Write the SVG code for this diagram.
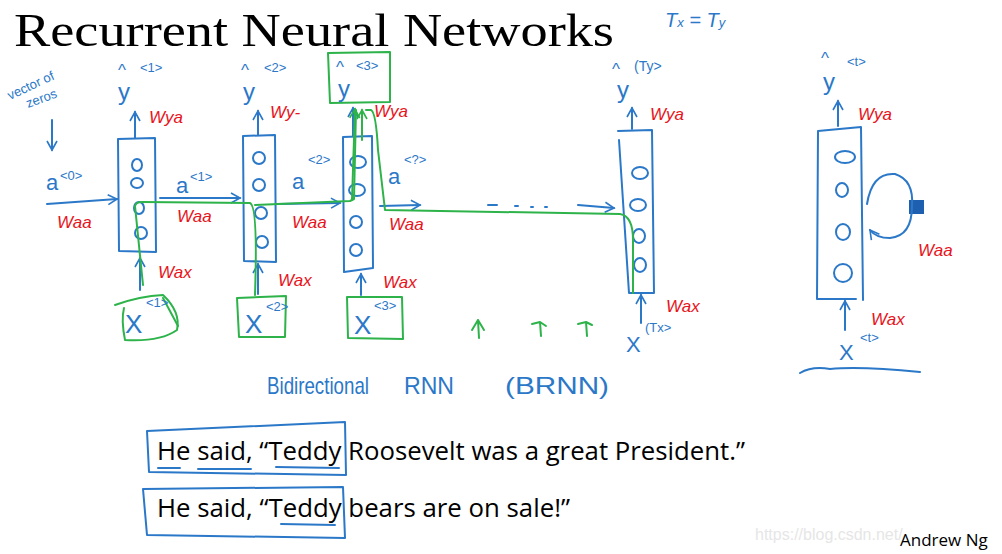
<svg xmlns="http://www.w3.org/2000/svg" width="1002" height="554" viewBox="0 0 1002 554">
<defs>
<marker id="ah" viewBox="0 0 12 12" refX="10" refY="6" markerWidth="12" markerHeight="12" markerUnits="userSpaceOnUse" orient="auto">
<path d="M1,1 L10,6 L1,11" fill="none" stroke="#2b78c8" stroke-width="1.6"/>
</marker>
<marker id="ahg" viewBox="0 0 12 12" refX="10" refY="6" markerWidth="12" markerHeight="12" markerUnits="userSpaceOnUse" orient="auto">
<path d="M1,1 L10,6 L1,11" fill="none" stroke="#2db34a" stroke-width="1.6"/>
</marker>
</defs>
<style>
.b{fill:none;stroke:#2b78c8;stroke-width:2;stroke-linecap:round;stroke-linejoin:round}
.g{fill:none;stroke:#2db34a;stroke-width:2;stroke-linecap:round;stroke-linejoin:round}
.hb{font-family:"Liberation Sans",sans-serif;fill:#2b78c8}
.hr{font-family:"Liberation Sans",sans-serif;fill:#e8141b;font-size:17px;font-style:italic}
.s{font-family:"Open Sans","Liberation Sans",sans-serif;font-size:25px;fill:#000}
.ar{marker-end:url(#ah)}
.c{fill:none;stroke:#2b78c8;stroke-width:2}
</style>
<rect width="1002" height="554" fill="#fff"/>
<text x="14" y="46" font-family="Liberation Serif,serif" font-size="46" textLength="600" lengthAdjust="spacingAndGlyphs" fill="#000">Recurrent Neural Networks</text>
<text x="665" y="27" class="hb" font-size="20" font-style="italic">T<tspan font-size="13">x</tspan> = T<tspan font-size="13">y</tspan></text>
<text x="900" y="546" font-family="Open Sans,Liberation Sans,sans-serif" font-size="17" fill="#000">Andrew Ng</text>
<text x="755" y="540" font-family="Liberation Sans,sans-serif" font-size="16" fill="#e6e6e6">https://blog.csdn.net/</text>

<g id="zeros-note">
<text x="10" y="100" class="hb" font-size="13" transform="rotate(-25 10 100)">vector of</text>
<text x="28" y="108" class="hb" font-size="13" transform="rotate(-20 28 108)">zeros</text>
</g>

<g id="unit1">
<path class="b" d="M118,139 L155,138 L156,252 L119,251 Z"/>
<ellipse class="c" cx="137" cy="165" rx="5" ry="6"/>
<ellipse class="c" cx="137" cy="183" rx="6" ry="5"/>
<ellipse class="c" cx="139" cy="208" rx="5" ry="6"/>
<ellipse class="c" cx="141" cy="233" rx="6" ry="6"/>
</g>
<g id="unit2">
<path class="b" d="M243,136 L275,135 L276,262 L244,261 Z"/>
<ellipse class="c" cx="259" cy="158" rx="6" ry="6"/>
<ellipse class="c" cx="259" cy="185" rx="6" ry="6"/>
<ellipse class="c" cx="261" cy="213" rx="6" ry="6"/>
<ellipse class="c" cx="262" cy="242" rx="6" ry="6"/>
</g>
<g id="unit3">
<path class="b" d="M343,137 L372,136 L373,268 L344,272 Z"/>
<ellipse class="c" cx="358" cy="162" rx="8" ry="6"/>
<ellipse class="c" cx="357" cy="190" rx="8" ry="6"/>
<ellipse class="c" cx="356" cy="222" rx="6" ry="6"/>
<ellipse class="c" cx="356" cy="250" rx="6" ry="6"/>
</g>
<g id="unitTy">
<path class="b" d="M618,131 L652,130 L654,293 L629,293 L619,140"/>
<ellipse class="c" cx="640" cy="173" rx="8" ry="6"/>
<ellipse class="c" cx="638" cy="205" rx="8" ry="6"/>
<ellipse class="c" cx="639" cy="236" rx="6" ry="7"/>
<ellipse class="c" cx="640" cy="265" rx="6" ry="7"/>
</g>
<g id="unitT">
<path class="b" d="M818,131 L861,127 L863,300 M818,131 L817,299 L856,299"/>
<ellipse class="c" cx="845" cy="157" rx="10" ry="6"/>
<ellipse class="c" cx="842" cy="190" rx="6" ry="7"/>
<ellipse class="c" cx="843" cy="232" rx="7" ry="8"/>
<ellipse class="c" cx="843" cy="273" rx="9" ry="9"/>
<rect x="909" y="200" width="15" height="14" fill="#1f5fb0"/>
</g>

<g id="outputs">
<text x="118" y="76" class="hb" font-size="17">^</text><text x="140" y="72" class="hb" font-size="13">&lt;1&gt;</text><text x="118" y="100" class="hb" font-size="24">y</text>
<text x="241" y="76" class="hb" font-size="17">^</text><text x="264" y="72" class="hb" font-size="13">&lt;2&gt;</text><text x="243" y="100" class="hb" font-size="24">y</text>
<path class="g" d="M328,53 L390,52 L390,102 L330,103 Z"/>
<text x="336" y="73" class="hb" font-size="17">^</text><text x="356" y="70" class="hb" font-size="13">&lt;3&gt;</text><text x="338" y="97" class="hb" font-size="24">y</text>
<text x="612" y="75" class="hb" font-size="17">^</text><text x="634" y="71" class="hb" font-size="14">(Ty&gt;</text><text x="617" y="98" class="hb" font-size="24">y</text>
<text x="821" y="64" class="hb" font-size="17">^</text><text x="847" y="66" class="hb" font-size="13">&lt;t&gt;</text><text x="823" y="90" class="hb" font-size="24">y</text>
</g>

<g id="inputs">
<path class="g" d="M115,305 Q140,296 163,295 Q181,312 177,330 Q160,342 125,340 Q121,320 124,308"/>
<path class="g" d="M163,298 L178,326"/>
<text x="125" y="333" class="hb" font-size="26">X</text><text x="146" y="307" class="hb" font-size="13">&lt;1&gt;</text>
<path class="g" d="M237,298 L286,296 L285,337 L239,337 Z"/>
<text x="245" y="333" class="hb" font-size="26">X</text><text x="266" y="311" class="hb" font-size="13">&lt;2&gt;</text>
<path class="g" d="M347,297 L402,297 L403,339 L348,338 Z"/>
<text x="354" y="334" class="hb" font-size="26">X</text><text x="374" y="310" class="hb" font-size="13">&lt;3&gt;</text>
<text x="626" y="352" class="hb" font-size="22">X</text><text x="645" y="332" class="hb" font-size="13">(Tx&gt;</text>
<text x="839" y="360" class="hb" font-size="22">X</text><text x="860" y="342" class="hb" font-size="13">&lt;t&gt;</text>
<path class="b" d="M800,373 Q812,366 830,369 Q860,366 920,372"/>
</g>

<g id="connectors">
<path class="b ar" d="M52,120 L52,150"/>
<path class="b ar" d="M47,204 L117,199"/>
<path class="b ar" d="M160,198 L240,198"/>
<path class="b ar" d="M276,204 L340,203"/>
<path class="b ar" d="M380,206 L420,205"/>
<path class="b" d="M488,205 L497,205 M515,206 L518,206 M531,207 L533,207 M545,207 L547,207"/>
<path class="b ar" d="M578,205 L614,208"/>
<path class="b ar" d="M135,138 L135,112"/>
<path class="b ar" d="M258,135 L258,111"/>
<path class="b ar" d="M353,136 L353,108"/>
<path class="b ar" d="M632,129 L632,108"/>
<path class="b ar" d="M838,126 L838,101"/>
<path class="b ar" d="M140,290 L140,258"/>
<path class="b ar" d="M258,294 L258,264"/>
<path class="b ar" d="M361,295 L361,274"/>
<path class="b ar" d="M641,323 L641,295"/>
<path class="b ar" d="M845,330 L845,301"/>
<path class="b ar" d="M867,204 Q872,172 895,174 Q914,180 912,206 Q912,236 890,238 Q876,238 870,230"/>
<path class="g" d="M143,285 L135,206 Q136,202 142,202 L250,203 Q258,206 255,295"/>
<path class="g" d="M255,205 L350,201 L354,199 L356,110"/>
<path class="g" d="M352,200 L355,109" marker-end="url(#ahg)"/>
<path class="g" d="M366,110 L371,110 Q376,112 378,150 L385,210 L620,214 Q633,216 633,240 L633,293"/>
<path class="g" d="M362,140 L362,110" marker-end="url(#ahg)"/>
<path class="g" d="M472,330 L478,320 L484,330 M478,320 L479,338"/>
<path class="g" d="M532,324 L540,322 L546,326 M540,322 L541,336"/>
<path class="g" d="M578,324 L586,322 L592,325 M586,322 L587,336"/>
</g>

<g id="labels">
<text x="46" y="190" class="hb" font-size="22">a</text><text x="60" y="180" class="hb" font-size="13">&lt;0&gt;</text>
<text x="176" y="193" class="hb" font-size="22">a</text><text x="190" y="181" class="hb" font-size="13">&lt;1&gt;</text>
<text x="292" y="189" class="hb" font-size="22">a</text><text x="308" y="164" class="hb" font-size="13">&lt;2&gt;</text>
<text x="388" y="184" class="hb" font-size="22">a</text><text x="404" y="164" class="hb" font-size="13">&lt;?&gt;</text>
<text x="57" y="228" class="hr">Waa</text>
<text x="177" y="222" class="hr">Waa</text>
<text x="292" y="228" class="hr">Waa</text>
<text x="389" y="230" class="hr">Waa</text>
<text x="149" y="123" class="hr">Wya</text>
<text x="270" y="118" class="hr">Wy-</text>
<text x="374" y="117" class="hr">Wya</text>
<text x="650" y="120" class="hr">Wya</text>
<text x="858" y="120" class="hr">Wya</text>
<text x="158" y="278" class="hr">Wax</text>
<text x="278" y="286" class="hr">Wax</text>
<text x="383" y="288" class="hr">Wax</text>
<text x="666" y="312" class="hr">Wax</text>
<text x="871" y="325" class="hr">Wax</text>
<text x="918" y="256" class="hr">Waa</text>
<text x="267" y="394" class="hb" font-size="24" textLength="102" lengthAdjust="spacingAndGlyphs">Bidirectional</text>
<text x="404" y="394" class="hb" font-size="24" textLength="50" lengthAdjust="spacingAndGlyphs">RNN</text>
<text x="505" y="394" class="hb" font-size="24" textLength="104" lengthAdjust="spacingAndGlyphs">(BRNN)</text>
</g>

<g id="sentence1">
<path class="b" stroke-width="1.5" d="M147,431 L345,422 L346,475 L149,472 Z"/>
<text x="157" y="460" class="s" textLength="588" lengthAdjust="spacingAndGlyphs">He said, “Teddy Roosevelt was a great President.”</text>
<path class="b" stroke-width="1.5" d="M158,468 L180,468 M198,469 L251,469 M276,467 L339,468"/>
</g>
<g id="sentence2">
<path class="b" stroke-width="1.5" d="M143,489 L343,487 L345,538 L147,535 Z"/>
<text x="157" y="517" class="s" textLength="413" lengthAdjust="spacingAndGlyphs">He said, “Teddy bears are on sale!”</text>
<path class="b" stroke-width="1.5" d="M281,524 L335,525"/>
</g>
</svg>
